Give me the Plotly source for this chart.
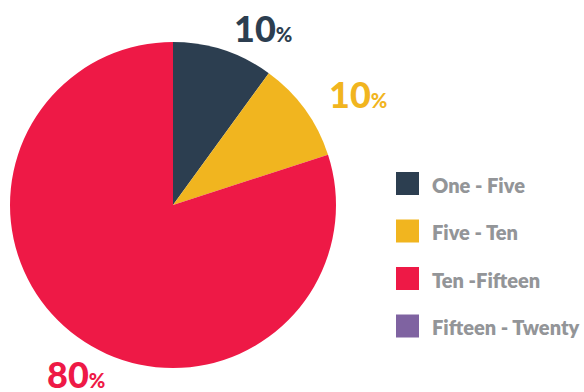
import plotly.graph_objects as go

# Share of items by range
categories = ["One - Five", "Five - Ten", "Ten -Fifteen", "Fifteen - Twenty"]
values = [10, 10, 80, 0]
colors = ["#2c3e50", "#f1b51f", "#ee1946", "#7f63a1"]

W, H = 584, 392
FONT = "Lato"

fig = go.Figure(
    go.Pie(
        labels=categories,
        values=values,
        marker=dict(colors=colors, line=dict(width=0)),
        sort=False,
        direction="clockwise",
        rotation=0,
        textinfo="none",
        hoverinfo="label+percent",
        showlegend=False,
        domain=dict(x=[10 / W, 336 / W], y=[24 / H, 350 / H]),
    )
)

# Percentage labels next to each visible slice (pixel anchors: left edge, vertical middle)
label_pos = [(232, 28), (327, 94), (45, 374)]
total = sum(values)
annotations = []
for (px, py), v, c in zip(label_pos, values[:3], colors[:3]):
    pct = round(100 * v / total)
    annotations.append(dict(
        x=px / W, y=1 - py / H, xref="paper", yref="paper",
        xanchor="left", yanchor="middle", showarrow=False,
        text=f"{pct}<span style='font-size:20px'>%</span>",
        font=dict(family=FONT, size=36, color=c, weight=900),
    ))

# Custom legend: colour squares with grey bold labels
shapes = []
legend_x0, legend_y0, step, sq = 396, 172, 47.5, 23
for i, (name, c) in enumerate(zip(categories, colors)):
    top = legend_y0 + i * step
    shapes.append(dict(
        type="rect", xref="paper", yref="paper",
        x0=legend_x0 / W, x1=(legend_x0 + sq) / W,
        y0=1 - (top + sq) / H, y1=1 - top / H,
        fillcolor=c, line=dict(width=0),
    ))
    annotations.append(dict(
        x=430 / W, y=1 - (top + sq / 2 + 1) / H, xref="paper", yref="paper",
        xanchor="left", yanchor="middle", showarrow=False,
        text=name,
        font=dict(family=FONT, size=20, color="#939598", weight=800),
    ))

fig.update_layout(
    width=W, height=H,
    margin=dict(l=0, r=0, t=0, b=0),
    paper_bgcolor="white", plot_bgcolor="white",
    shapes=shapes, annotations=annotations,
)

fig.write_html("out.html")
